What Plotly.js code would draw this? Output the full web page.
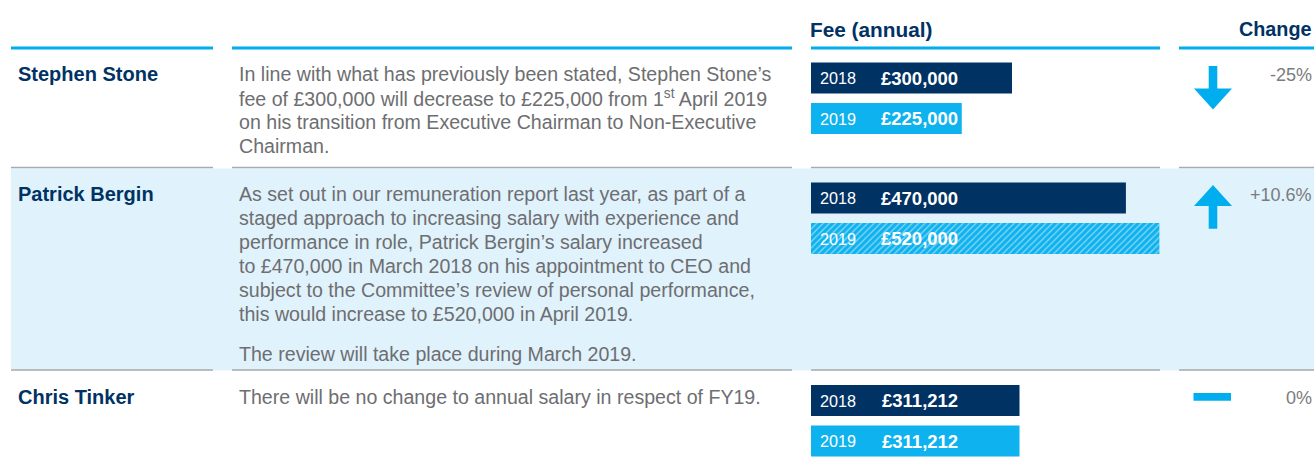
<!DOCTYPE html>
<html>
<head>
<meta charset="utf-8">
<script src="https://cdn.plot.ly/plotly-3.0.1.min.js"></script>
<style>html,body{margin:0;padding:0;background:#fff;}#chart{width:1314px;height:459px;}</style>
</head>
<body>
<div id="chart"></div>
<script>
// ---- data ----
const names = ['Stephen Stone', 'Patrick Bergin', 'Chris Tinker'];
const years = ['2018', '2019'];
const fee2018 = [300000, 470000, 311212];
const fee2019 = [225000, 520000, 311212];
const pending2019 = [false, true, false];
const changeLabels = ['-25%', '+10.6%', '0%'];
const headerFee = 'Fee (annual)';
const headerChange = 'Change';
const descriptions = [
  [[
    'In line with what has previously been stated, Stephen Stone’s',
    'fee of £300,000 will decrease to £225,000 from 1<sup>st</sup> April 2019',
    'on his transition from Executive Chairman to Non-Executive',
    'Chairman.'
  ]],
  [[
    'As set out in our remuneration report last year, as part of a',
    'staged approach to increasing salary with experience and',
    'performance in role, Patrick Bergin’s salary increased',
    'to £470,000 in March 2018 on his appointment to CEO and',
    'subject to the Committee’s review of personal performance,',
    'this would increase to £520,000 in April 2019.'
  ], [
    'The review will take place during March 2019.'
  ]],
  [[
    'There will be no change to annual salary in respect of FY19.'
  ]]
];

// ---- layout constants ----
const W = 1314, H = 459;
const NAVY = '#003263', BLUE = '#0db2ee', ARROW = '#00aeef', GREY = '#6d6e71';
const FONT = 'Liberation Sans, Arial, sans-serif';
const rowTop = [48, 168, 370.5];
const barStart = 811, pxPerUnit = 0.000670;
const px = x => x / W;
const LSH = -3, RSH = 2;

const fmt = v => '£' + v.toLocaleString('en-GB');

const y2018 = rowTop.map(t => t + 30);
const y2019 = rowTop.map(t => t + 70.5);

const traces = [
  {
    type: 'bar', orientation: 'h', x: fee2018, y: y2018, width: 31,
    marker: {color: NAVY, line: {width: 0}}, hoverinfo: 'skip', showlegend: false
  },
  {
    type: 'bar', orientation: 'h', x: fee2019, y: y2019, width: 31,
    marker: {
      color: BLUE, line: {width: 0},
      pattern: {
        shape: pending2019.map(p => p ? '/' : ''),
        fillmode: 'replace', bgcolor: BLUE, fgcolor: '#86d7f6', size: 4.5, solidity: 0.3
      }
    },
    hoverinfo: 'skip', showlegend: false
  }
];

const annotations = [];
const shapes = [];

// row background
shapes.push({type: 'rect', xref: 'paper', yref: 'y', x0: px(11), x1: 1, y0: rowTop[1] + 0.5, y1: rowTop[2],
  fillcolor: '#e0f2fc', line: {width: 0}, layer: 'below'});

const segs = [[11, 213], [232, 792], [811, 1160], [1179, 1314]];
segs.forEach(s => {
  shapes.push({type: 'line', xref: 'paper', yref: 'y', x0: px(s[0]), x1: px(s[1]), y0: rowTop[0], y1: rowTop[0],
    line: {color: '#00aeef', width: 3}});
  [rowTop[1], rowTop[2]].forEach(yy => {
    shapes.push({type: 'line', xref: 'paper', yref: 'y', x0: px(s[0]), x1: px(s[1]), y0: yy - 0.5, y1: yy - 0.5,
      line: {color: '#a9abae', width: 1.5}});
  });
});

// headers
annotations.push({xref: 'paper', yref: 'y', x: px(811), xshift: LSH, y: 29, xanchor: 'left', yanchor: 'middle', showarrow: false,
  text: '<b>' + headerFee + '</b>', font: {family: FONT, size: 20.8, color: NAVY}});
annotations.push({xref: 'paper', yref: 'y', x: px(1312), xshift: RSH, y: 29, xanchor: 'right', yanchor: 'middle', showarrow: false,
  text: '<b>' + headerChange + '</b>', font: {family: FONT, size: 19.8, color: NAVY}});

names.forEach((n, i) => {
  const top = rowTop[i];
  annotations.push({xref: 'paper', yref: 'y', x: px(19), xshift: LSH, y: top + 26, xanchor: 'left', yanchor: 'middle', showarrow: false,
    text: '<b>' + n + '</b>', font: {family: FONT, size: 20, color: NAVY}});
  let yy = top + 26;
  descriptions[i].forEach((para, pi) => {
    if (pi > 0) yy += 16;
    para.forEach(line => {
      annotations.push({xref: 'paper', yref: 'y', x: px(240), xshift: LSH, y: yy, xanchor: 'left', yanchor: 'middle', showarrow: false,
        text: line, font: {family: FONT, size: 19.6, color: GREY}});
      yy += 24;
    });
  });
  // bar labels
  [[y2018[i], years[0], fee2018[i]], [y2019[i], years[1], fee2019[i]]].forEach(b => {
    annotations.push({xref: 'x', yref: 'y', x: 0, xshift: 7, y: b[0], xanchor: 'left', yanchor: 'middle', showarrow: false,
      text: b[1], font: {family: FONT, size: 16.2, color: '#ffffff'}});
    annotations.push({xref: 'x', yref: 'y', x: 0, xshift: 149, y: b[0], xanchor: 'right', yanchor: 'middle', showarrow: false,
      text: '<b>' + fmt(b[2]) + '</b>', font: {family: FONT, size: 18.5, color: '#ffffff'}});
  });
  // change label
  annotations.push({xref: 'paper', yref: 'y', x: px(1312), xshift: RSH, y: top + 27, xanchor: 'right', yanchor: 'middle', showarrow: false,
    text: changeLabels[i], font: {family: FONT, size: 18, color: '#7a7b7e'}});
  // arrow / dash from data
  const diff = fee2019[i] - fee2018[i];
  const cx = 1213, hw = 19, sw = 4.3;
  if (diff < 0) {
    shapes.push({type: 'path', xref: 'paper', yref: 'y',
      path: `M${px(cx - sw)},${top + 18} L${px(cx + sw)},${top + 18} L${px(cx + sw)},${top + 40.5} L${px(cx + hw)},${top + 40.5} L${px(cx)},${top + 61.5} L${px(cx - hw)},${top + 40.5} L${px(cx - sw)},${top + 40.5} Z`,
      fillcolor: ARROW, line: {width: 0}});
  } else if (diff > 0) {
    shapes.push({type: 'path', xref: 'paper', yref: 'y',
      path: `M${px(cx)},${top + 17} L${px(cx + hw)},${top + 38} L${px(cx + sw)},${top + 38} L${px(cx + sw)},${top + 60.7} L${px(cx - sw)},${top + 60.7} L${px(cx - sw)},${top + 38} L${px(cx - hw)},${top + 38} Z`,
      fillcolor: ARROW, line: {width: 0}});
  } else {
    shapes.push({type: 'rect', xref: 'paper', yref: 'y', x0: px(cx - 19.5), x1: px(cx + 18), y0: top + 22.5, y1: top + 30.3,
      fillcolor: ARROW, line: {width: 0}});
  }
});

const layout = {
  width: W, height: H,
  margin: {l: 0, r: 0, t: 0, b: 0, pad: 0},
  paper_bgcolor: '#ffffff', plot_bgcolor: 'rgba(0,0,0,0)',
  xaxis: {domain: [px(barStart), 1], range: [0, (W - barStart) / pxPerUnit], visible: false, fixedrange: true},
  yaxis: {domain: [0, 1], range: [H, 0], visible: false, fixedrange: true},
  barmode: 'overlay',
  shapes: shapes,
  annotations: annotations,
  showlegend: false
};

Plotly.newPlot('chart', traces, layout, {displayModeBar: false, staticPlot: true});
</script>
</body>
</html>
